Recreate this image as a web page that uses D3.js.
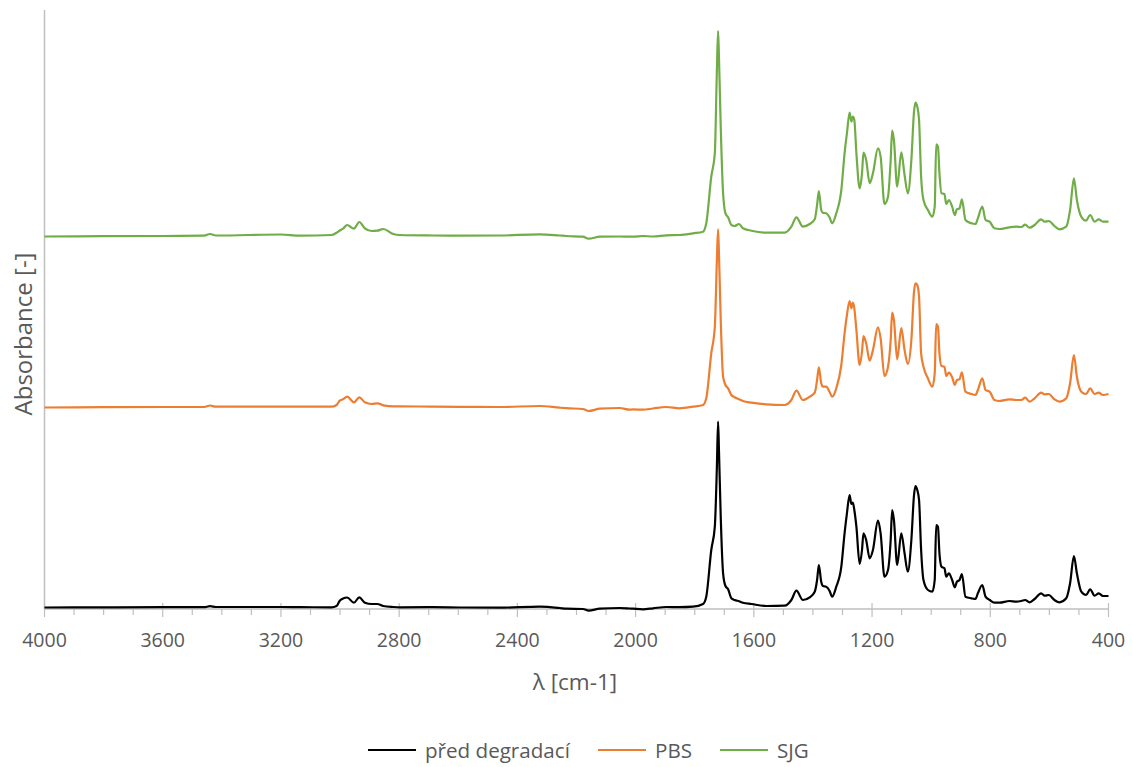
<!DOCTYPE html>
<html>
<head>
<meta charset="utf-8">
<script src="https://cdn.jsdelivr.net/npm/d3@7"></script>
<style>
  html, body { margin: 0; padding: 0; background: #fff; }
  svg { display: block; }
  text { font-family: "Open Sans", "Noto Sans", sans-serif; }
</style>
</head>
<body>
<svg id="chart" width="1133" height="767"></svg>
<script>
// ---- DATA (wavenumber cm-1, absorbance in arbitrary units with stacking offset) ----
const seriesNames = ["před degradací", "PBS", "SJG"];
const seriesColors = ["#000000", "#ED7D31", "#70AD47"];

const wavenumbers = [
  4000, 3800, 3600, 3460, 3440, 3420, 3200, 3136, 3029, 3012, 3001, 2990, 2976, 2953, 2935, 2916,
  2893, 2874, 2854, 2820, 2798, 2685, 2595, 2460, 2324, 2257, 2234, 2178, 2159, 2121, 2054, 2020,
  2009, 1975, 1941, 1896,
  1851, 1806, 1772, 1761, 1744, 1732, 1725, 1721, 1718, 1712, 1704, 1696, 1687, 1676, 1665, 1650,
  1637, 1608, 1558, 1496, 1473, 1456, 1434, 1411, 1394, 1386, 1380, 1372, 1366, 1355, 1344, 1335,
  1321, 1304, 1293, 1285, 1276, 1270, 1265, 1260, 1253, 1242, 1234, 1229, 1220, 1208, 1197, 1180,
  1171, 1158, 1146, 1137, 1132, 1126, 1115, 1101, 1090, 1079, 1067, 1058, 1053, 1047, 1041, 1034,
  1026, 1011, 996, 988, 983, 977, 972, 965, 955, 949, 940, 929, 920, 913, 904, 896,
  884, 864, 850, 842, 827, 816, 802, 786, 769, 735, 712, 695, 682, 667, 650, 628,
  616, 602, 583, 566, 543, 530, 517, 507, 492, 476, 462, 447, 433, 419, 400
];

const predDegradaci = [
  0.5, 0.6, 0.8, 0.8, 1.8, 1.0, 1.0, 0.8, 0.7, 2.0, 7.3, 9.5, 10.5, 5.3, 10.7, 5.3,
  4.0, 4.0, 2.0, 1.0, 0.7, 0.8, 0.5, 0.3, 1.3, 0.0, -0.7, -1.0, -2.7, -0.7, 0.0, -0.5,
  -0.7, -1.3, -0.3, 1.0,
  0.8, 1.3, 4.0, 11.3, 58.0, 81.3, 141.3, 186.3, 158.0, 91.3, 34.7, 22.0, 18.7, 9.7, 8.0, 6.7,
  5.3, 4.0, 2.0, 2.3, 8.0, 17.3, 8.0, 10.7, 16.3, 28.0, 43.0, 26.3, 22.0, 21.3, 17.3, 11.3,
  21.3, 41.3, 74.7, 94.7, 113.0, 104.0, 105.3, 98.0, 81.3, 44.0, 58.0, 74.7, 68.0, 49.7, 58.0, 87.3,
  74.7, 31.3, 38.0, 68.0, 98.0, 88.0, 43.0, 74.7, 54.7, 36.3, 68.0, 113.0, 122.0, 118.0, 108.0, 58.0,
  28.0, 18.0, 16.3, 28.0, 83.0, 81.3, 54.7, 41.3, 39.7, 31.3, 34.7, 28.0, 20.7, 26.3, 28.0, 34.0,
  11.3, 9.7, 9.0, 14.7, 23.0, 11.3, 8.0, 5.3, 5.3, 7.0, 6.3, 7.0, 8.0, 5.7, 9.0, 14.7,
  12.3, 13.0, 8.0, 5.7, 9.7, 24.7, 52.0, 34.7, 16.3, 13.0, 18.7, 12.3, 14.7, 12.0, 12.0
];

const pbs = [
  200.5, 200.8, 201.0, 201.0, 202.5, 201.3, 201.3, 201.3, 201.3, 203.0, 207.3, 208.7, 211.3, 205.7, 210.7, 205.7,
  204.0, 204.7, 202.7, 201.7, 201.7, 201.3, 201.2, 201.0, 202.0, 200.3, 199.8, 199.0, 197.0, 199.3, 200.0, 198.3,
  198.6, 198.3, 199.5, 201.0,
  199.7, 201.3, 203.0, 209.7, 254.7, 281.3, 348.0, 378.7, 354.7, 288.0, 231.3, 223.0, 219.7, 213.0, 210.7, 208.7,
  207.0, 205.3, 203.7, 203.0, 208.0, 217.3, 208.0, 211.3, 215.3, 228.0, 240.7, 224.7, 221.3, 221.3, 216.3, 211.3,
  219.7, 243.0, 274.7, 293.0, 307.0, 299.7, 305.3, 299.7, 278.0, 243.0, 256.3, 272.0, 264.7, 247.3, 258.0, 280.7,
  269.7, 232.0, 241.3, 268.0, 295.3, 288.0, 248.7, 280.0, 258.0, 244.0, 268.0, 316.3, 324.7, 323.0, 311.3, 254.7,
  241.3, 229.7, 221.3, 234.7, 284.0, 281.3, 254.7, 242.0, 241.3, 232.0, 235.3, 230.7, 223.0, 228.0, 228.7, 235.7,
  216.3, 214.0, 213.0, 218.0, 229.7, 218.0, 216.3, 208.0, 207.0, 208.7, 208.0, 208.0, 210.3, 206.3, 209.7, 215.3,
  213.7, 214.0, 208.7, 206.3, 209.7, 224.7, 253.0, 231.3, 216.3, 214.0, 219.7, 214.0, 215.3, 213.0, 214.0
];

const sjg = [
  371.5, 371.8, 372.0, 372.3, 374.0, 372.5, 373.5, 372.3, 373.0, 375.3, 377.5, 379.3, 383.0, 379.3, 386.0, 379.7,
  377.0, 377.3, 379.0, 374.0, 373.0, 372.5, 372.3, 372.5, 373.7, 372.5, 372.0, 371.3, 369.3, 371.3, 371.5, 371.3,
  371.3, 372.0, 371.5, 372.7,
  373.0, 374.7, 376.3, 384.7, 431.3, 454.7, 538.0, 577.0, 551.3, 481.3, 414.7, 394.7, 390.7, 383.0, 382.0, 384.0,
  379.7, 377.3, 375.3, 375.3, 381.3, 390.7, 381.3, 384.0, 388.7, 403.0, 417.0, 398.0, 395.3, 394.7, 390.7, 384.7,
  394.7, 418.0, 454.7, 474.7, 495.3, 486.3, 491.3, 488.0, 454.7, 419.7, 434.7, 455.3, 448.0, 424.7, 434.7, 459.7,
  451.3, 404.0, 411.3, 448.0, 477.3, 468.0, 421.3, 455.7, 433.0, 414.7, 448.0, 496.3, 505.3, 501.3, 488.0, 431.3,
  408.0, 398.0, 391.3, 401.3, 463.7, 461.3, 434.7, 414.7, 414.0, 404.0, 408.0, 401.3, 393.0, 398.7, 399.7, 408.7,
  388.0, 384.7, 384.0, 389.7, 401.3, 388.0, 386.3, 379.7, 379.0, 380.7, 381.3, 381.0, 383.3, 380.3, 383.0, 388.7,
  386.3, 387.0, 382.0, 378.7, 381.3, 398.0, 429.7, 408.0, 391.3, 387.3, 393.0, 386.3, 388.7, 386.3, 386.3
];

const seriesValues = [predDegradaci, pbs, sjg];

const xTickValues = [4000, 3600, 3200, 2800, 2400, 2000, 1600, 1200, 800, 400];
const xMinorTicks = d3.range(4000, 399, -100);

const xTitle = "λ [cm-1]";
const yTitle = "Absorbance [-]";

// ---- LAYOUT ----
const svg = d3.select("#chart");
const plotLeft = 44.5, plotRight = 1108.5, plotTop = 10, plotBottom = 609;

const x = d3.scaleLinear().domain([4000, 400]).range([plotLeft, plotRight]);
const y = d3.scaleLinear().domain([0, 600]).range([608, 8]);

const axisColor = "#BFBFBF";
const textColor = "#595959";

// y axis line
svg.append("line")
  .attr("x1", plotLeft).attr("x2", plotLeft)
  .attr("y1", plotTop).attr("y2", plotBottom)
  .attr("stroke", axisColor).attr("stroke-width", 1.5);

// x axis: minor ticks
const gx = svg.append("g");
gx.selectAll("line.minor").data(xMinorTicks.filter(d => !xTickValues.includes(d)))
  .join("line").attr("class", "minor")
  .attr("x1", d => x(d)).attr("x2", d => x(d))
  .attr("y1", plotBottom).attr("y2", plotBottom + 6)
  .attr("stroke", axisColor).attr("stroke-width", 1.2);
// major ticks (cross)
gx.selectAll("line.major").data(xTickValues)
  .join("line").attr("class", "major")
  .attr("x1", d => x(d)).attr("x2", d => x(d))
  .attr("y1", plotBottom - 6).attr("y2", plotBottom + 8)
  .attr("stroke", axisColor).attr("stroke-width", 1.2);
// axis line
gx.append("line")
  .attr("x1", plotLeft).attr("x2", plotRight)
  .attr("y1", plotBottom).attr("y2", plotBottom)
  .attr("stroke", axisColor).attr("stroke-width", 1.5);
// tick labels
gx.selectAll("text.tick").data(xTickValues)
  .join("text").attr("class", "tick")
  .attr("x", d => x(d)).attr("y", 647)
  .attr("text-anchor", "middle")
  .attr("font-size", 19.5)
  .attr("fill", textColor)
  .text(d => d);

// axis titles
svg.append("text")
  .attr("x", 575).attr("y", 690)
  .attr("text-anchor", "middle")
  .attr("font-size", 22.5)
  .attr("fill", textColor)
  .text(xTitle);

svg.append("text")
  .attr("transform", `translate(32, 334) rotate(-90)`)
  .attr("text-anchor", "middle")
  .attr("font-size", 24)
  .attr("fill", textColor)
  .text(yTitle);

// series lines
const line = d3.line()
  .x(d => x(d[0]))
  .y(d => y(d[1]))
  .curve(d3.curveMonotoneX);

seriesValues.forEach((vals, i) => {
  const pts = wavenumbers.map((w, j) => [w, vals[j]]);
  svg.append("path")
    .datum(pts)
    .attr("fill", "none")
    .attr("stroke", seriesColors[i])
    .attr("stroke-width", 2.2)
    .attr("stroke-linejoin", "round")
    .attr("d", line);
});

// legend
const legendItems = [
  { lx: 368, tx: 425 },
  { lx: 598, tx: 655 },
  { lx: 720, tx: 777 }
];
const lg = svg.append("g");
seriesNames.forEach((name, i) => {
  lg.append("line")
    .attr("x1", legendItems[i].lx).attr("x2", legendItems[i].lx + 48)
    .attr("y1", 750).attr("y2", 750)
    .attr("stroke", seriesColors[i]).attr("stroke-width", 2.2);
  lg.append("text")
    .attr("x", legendItems[i].tx).attr("y", 758)
    .attr("font-size", 20.6)
    .attr("fill", textColor)
    .text(name);
});
</script>
</body>
</html>
